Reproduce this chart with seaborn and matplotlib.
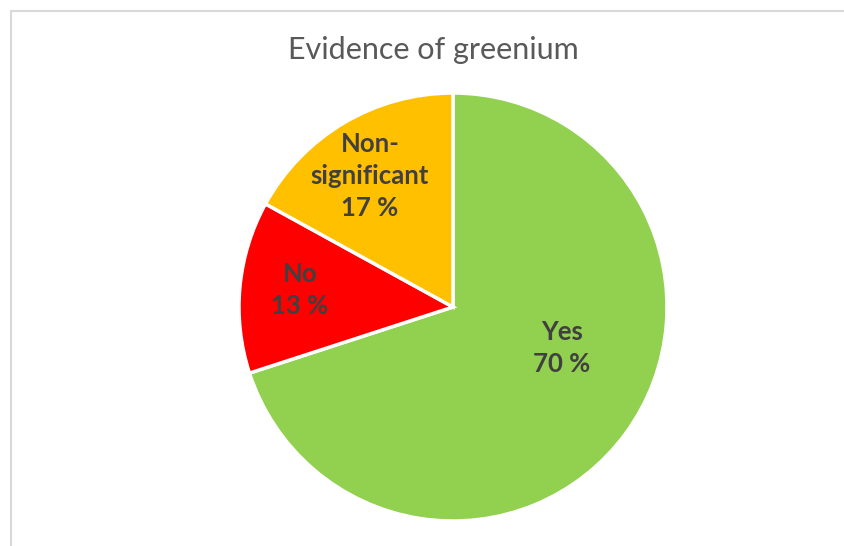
import matplotlib
matplotlib.use("Agg")
import matplotlib.pyplot as plt
from matplotlib.lines import Line2D
import seaborn as sns

categories = ["Yes", "No", "Non-\nsignificant"]
shares = [70, 13, 17]
colors = ["#92D050", "#FF0000", "#FFC000"]
title = "Evidence of greenium"

sns.set_theme(style="white")
plt.rcParams["font.family"] = ["Lato", "DejaVu Sans"]

W, H = 844, 546
fig = plt.figure(figsize=(W / 100, H / 100), dpi=100)
fig.patch.set_facecolor("white")

ax = fig.add_axes([0, 0, 1, 1])
cx, cy, r = 453, H - 307, 214
wedges, _ = ax.pie(
    shares,
    colors=colors,
    startangle=90,
    counterclock=False,
    center=(cx, cy),
    radius=r,
    wedgeprops=dict(edgecolor="white", linewidth=2.5),
)
ax.set_xlim(0, W)
ax.set_ylim(0, H)
ax.set_aspect("equal")
ax.axis("off")

# label anchors (pixel offsets from pie centre)
label_pos = [(109, -41), (-153, 17), (-83, 131)]
for cat, val, (dx, dy) in zip(categories, shares, label_pos):
    ax.text(cx + dx, cy + dy, f"{cat}\n{val} %", ha="center", va="center",
            fontsize=18.5, fontweight="bold", color="#404040", linespacing=1.42)

ax.text(433, H - 50, title, ha="center", va="center", fontsize=22,
        color="#595959")

# chart area border (left and top edges)
fig.add_artist(Line2D([10.5 / W, 10.5 / W], [0, 1 - 10.5 / H], transform=fig.transFigure,
                      color="#D9D9D9", linewidth=1.5))
fig.add_artist(Line2D([10.5 / W, 1], [1 - 10.5 / H, 1 - 10.5 / H], transform=fig.transFigure,
                      color="#D9D9D9", linewidth=1.5))

fig.savefig("out.png", dpi=100)
